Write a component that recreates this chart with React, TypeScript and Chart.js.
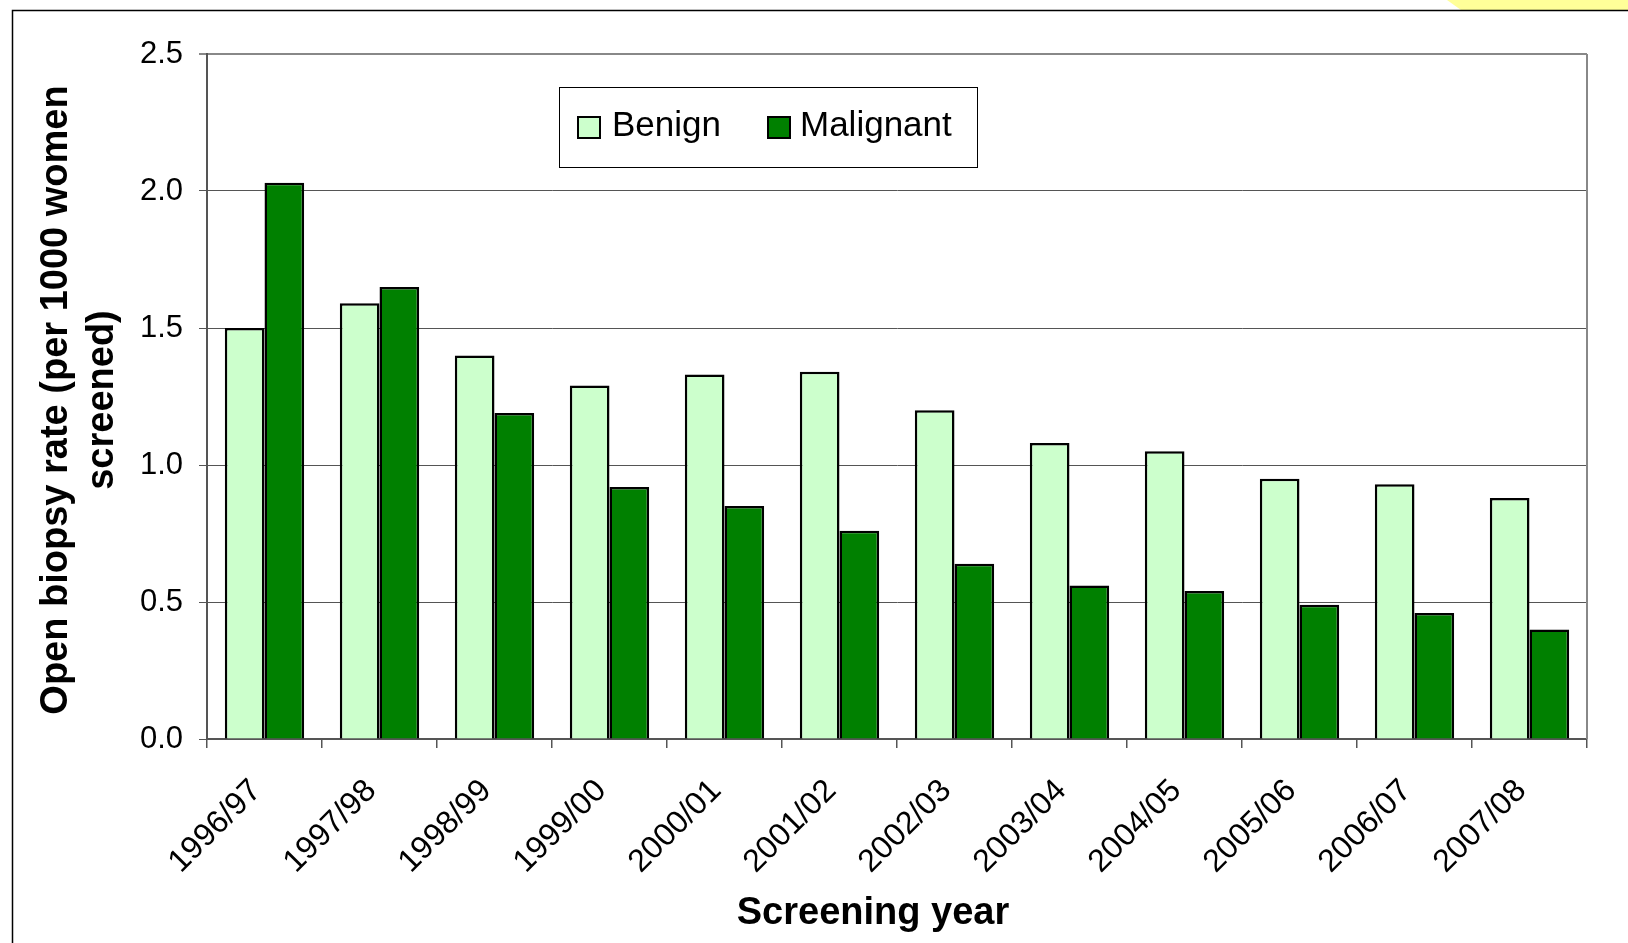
import React, { useEffect, useRef } from "react";
import { Chart, registerables } from "chart.js";

Chart.register(...registerables);

const categories = [
  "1996/97", "1997/98", "1998/99", "1999/00", "2000/01", "2001/02",
  "2002/03", "2003/04", "2004/05", "2005/06", "2006/07", "2007/08",
];
const benign = [1.5, 1.59, 1.4, 1.29, 1.33, 1.34, 1.2, 1.08, 1.05, 0.95, 0.93, 0.88];
const malignant = [2.03, 1.65, 1.19, 0.92, 0.85, 0.76, 0.64, 0.56, 0.54, 0.49, 0.46, 0.4];
const yTicks = [0, 0.5, 1.0, 1.5, 2.0, 2.5];
const yTitleLines = ["Open biopsy rate (per 1000 women", "screened)"];
const xTitle = "Screening year";

const FONT = "'Liberation Sans', Arial, sans-serif";

const decorPlugin = {
  id: "decor",
  beforeDraw(chart: any) {
    const ctx = chart.ctx;
    ctx.save();
    ctx.fillStyle = "#ffffff";
    ctx.fillRect(0, 0, chart.width, chart.height);
    ctx.restore();
  },
  afterDraw(chart: any) {
    const ctx = chart.ctx;
    const area = chart.chartArea;
    const xs = chart.scales.x;
    ctx.save();

    // yellow corner shape
    ctx.fillStyle = "#ffff99";
    ctx.beginPath();
    ctx.moveTo(1447, 0);
    ctx.lineTo(1461, 10);
    ctx.lineTo(chart.width, 10);
    ctx.lineTo(chart.width, 0);
    ctx.closePath();
    ctx.fill();

    // outer frame
    ctx.strokeStyle = "#000";
    ctx.lineWidth = 1.5;
    ctx.beginPath();
    ctx.moveTo(chart.width, 10.5);
    ctx.lineTo(12.5, 10.5);
    ctx.lineTo(12.5, chart.height);
    ctx.stroke();

    // right plot border
    ctx.strokeStyle = "#888";
    ctx.lineWidth = 2;
    ctx.beginPath();
    ctx.moveTo(area.right, area.top);
    ctx.lineTo(area.right, area.bottom);
    ctx.stroke();

    // x tick labels
    ctx.fillStyle = "#000";
    ctx.font = `32px ${FONT}`;
    ctx.textAlign = "right";
    ctx.textBaseline = "alphabetic";
    categories.forEach((lab, i) => {
      const x = xs.getPixelForValue(i);
      ctx.save();
      ctx.translate(x - 2, area.bottom + 53);
      ctx.rotate(-Math.PI / 4);
      ctx.fillText(lab, 0, 0);
      ctx.restore();
    });

    // x title
    ctx.font = `bold 38px ${FONT}`;
    ctx.textAlign = "center";
    ctx.fillText(xTitle, 873, 924);

    // y title
    ctx.save();
    ctx.translate(0, 400);
    ctx.rotate(-Math.PI / 2);
    ctx.textBaseline = "middle";
    ctx.textAlign = "center";
    ctx.fillText(yTitleLines[0], 0, 57);
    ctx.fillText(yTitleLines[1], 0, 103);
    ctx.restore();

    // legend
    ctx.fillStyle = "#fff";
    ctx.fillRect(559, 87, 418, 80);
    ctx.strokeStyle = "#000";
    ctx.lineWidth = 1;
    ctx.strokeRect(559.5, 87.5, 418, 80);
    const ds = chart.data.datasets;
    const items = [
      { sx: 578, tx: 612 },
      { sx: 768, tx: 800 },
    ];
    ctx.font = `35px ${FONT}`;
    ctx.textAlign = "left";
    ctx.textBaseline = "alphabetic";
    items.forEach((it, i) => {
      ctx.fillStyle = ds[i].backgroundColor;
      ctx.fillRect(it.sx, 117, 22, 21);
      ctx.strokeStyle = "#000";
      ctx.lineWidth = 2;
      ctx.strokeRect(it.sx, 117, 22, 21);
      ctx.fillStyle = "#000";
      ctx.fillText(ds[i].label, it.tx, 136);
    });

    ctx.restore();
  },
};

export default function App() {
  const ref = useRef<HTMLCanvasElement>(null);
  useEffect(() => {
    if (!ref.current) return;
    const chart = new Chart(ref.current, {
      type: "bar",
      data: {
        labels: categories,
        datasets: [
          {
            label: "Benign",
            data: benign,
            backgroundColor: "#ccffcc",
            borderColor: "#000",
            borderWidth: 2.5,
            categoryPercentage: 0.69,
            barPercentage: 1.0,
          },
          {
            label: "Malignant",
            data: malignant,
            backgroundColor: "#008000",
            borderColor: "#000",
            borderWidth: 2.5,
            categoryPercentage: 0.69,
            barPercentage: 1.0,
          },
        ],
      },
      options: {
        animation: false,
        responsive: false,
        devicePixelRatio: 1,
        layout: { padding: { left: 0, top: 54, right: 41, bottom: 0 } },
        plugins: {
          legend: { display: false },
          tooltip: { enabled: false },
          title: { display: false },
        },
        scales: {
          x: {
            type: "category",
            offset: true,
            grid: {
              offset: true,
              drawOnChartArea: false,
              drawTicks: true,
              tickLength: 9,
              color: "#555",
              lineWidth: 1.5,
            },
            border: { color: "#555", width: 2 },
            ticks: { display: false },
            afterFit: (s: any) => {
              s.height = 204;
            },
          },
          y: {
            min: 0,
            max: 2.5,
            afterBuildTicks: (s: any) => {
              s.ticks = yTicks.map((v) => ({ value: v }));
            },
            grid: {
              color: (c: any) => (c.tick && c.tick.value === 2.5 ? "#888" : "#555"),
              lineWidth: (c: any) => (c.tick && c.tick.value === 2.5 ? 2 : 1),
              tickLength: 8,
            },
            border: { color: "#555", width: 2 },
            ticks: {
              color: "#000",
              font: { family: FONT, size: 31 },
              padding: 16,
              callback: (v: any) => Number(v).toFixed(1),
            },
            afterFit: (s: any) => {
              s.width = 207;
            },
          },
        },
      },
      plugins: [decorPlugin],
    } as any);
    return () => chart.destroy();
  }, []);
  return (
    <div style={{ position: "absolute", left: 0, top: 0, width: 1628, height: 943 }}>
      <canvas ref={ref} width={1628} height={943} />
    </div>
  );
}
